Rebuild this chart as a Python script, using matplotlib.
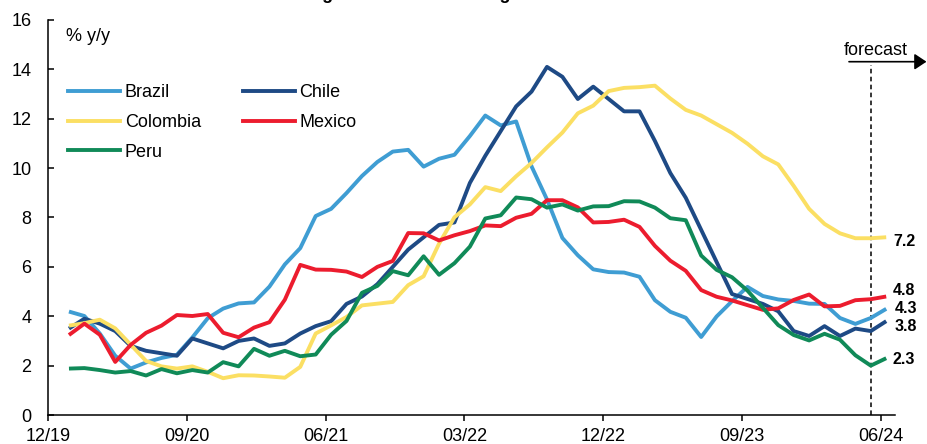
import numpy as np
import matplotlib
matplotlib.use("Agg")
import matplotlib.pyplot as plt
from matplotlib.lines import Line2D

plt.rcParams["font.family"] = ["Liberation Sans", "DejaVu Sans"]

# Monthly headline inflation, % y/y, Jan 2020 - Jun 2024 (last month is a forecast)
brazil = [4.19, 4.01, 3.30, 2.40, 1.88, 2.13, 2.31, 2.44, 3.14, 3.92, 4.31, 4.52,
          4.56, 5.20, 6.10, 6.76, 8.06, 8.35, 8.99, 9.68, 10.25, 10.67, 10.74, 10.06,
          10.38, 10.54, 11.30, 12.13, 11.73, 11.89, 10.07, 8.73, 7.17, 6.47, 5.90, 5.79,
          5.77, 5.60, 4.65, 4.18, 3.94, 3.16, 3.99, 4.61, 5.19, 4.82, 4.68, 4.62,
          4.51, 4.50, 3.93, 3.69, 3.93, 4.3]
chile = [3.5, 3.9, 3.7, 3.4, 2.8, 2.6, 2.5, 2.4, 3.1, 2.9, 2.7, 3.0,
         3.1, 2.8, 2.9, 3.3, 3.6, 3.8, 4.5, 4.8, 5.3, 6.0, 6.7, 7.2,
         7.7, 7.8, 9.4, 10.5, 11.5, 12.5, 13.1, 14.1, 13.7, 12.8, 13.3, 12.8,
         12.3, 12.3, 11.1, 9.8, 8.8, 7.5, 6.2, 4.9, 4.7, 4.5, 4.2, 3.4,
         3.2, 3.6, 3.2, 3.5, 3.4, 3.8]
colombia = [3.62, 3.72, 3.86, 3.51, 2.85, 2.19, 1.97, 1.88, 1.97, 1.75, 1.49, 1.61,
            1.60, 1.56, 1.51, 1.95, 3.30, 3.63, 3.97, 4.44, 4.51, 4.58, 5.26, 5.62,
            6.94, 8.01, 8.53, 9.23, 9.07, 9.67, 10.21, 10.84, 11.44, 12.22, 12.53, 13.12,
            13.25, 13.28, 13.34, 12.82, 12.36, 12.13, 11.78, 11.43, 10.99, 10.48, 10.15, 9.28,
            8.35, 7.74, 7.36, 7.16, 7.16, 7.2]
mexico = [3.24, 3.70, 3.25, 2.15, 2.84, 3.33, 3.62, 4.05, 4.01, 4.09, 3.33, 3.15,
          3.54, 3.76, 4.67, 6.08, 5.89, 5.88, 5.81, 5.59, 6.00, 6.24, 7.37, 7.36,
          7.07, 7.28, 7.45, 7.68, 7.65, 7.99, 8.15, 8.70, 8.70, 8.41, 7.80, 7.82,
          7.91, 7.62, 6.85, 6.25, 5.84, 5.06, 4.79, 4.64, 4.45, 4.26, 4.32, 4.66,
          4.88, 4.40, 4.42, 4.65, 4.69, 4.8]
peru = [1.88, 1.90, 1.82, 1.72, 1.78, 1.60, 1.86, 1.69, 1.82, 1.72, 2.14, 1.97,
        2.68, 2.40, 2.60, 2.38, 2.45, 3.25, 3.81, 4.95, 5.23, 5.83, 5.66, 6.43,
        5.68, 6.15, 6.82, 7.96, 8.09, 8.81, 8.74, 8.40, 8.53, 8.28, 8.45, 8.46,
        8.66, 8.65, 8.40, 7.97, 7.89, 6.46, 5.88, 5.58, 5.04, 4.34, 3.64, 3.24,
        3.02, 3.29, 3.05, 2.42, 2.00, 2.3]

countries = ["Brazil", "Chile", "Colombia", "Mexico", "Peru"]
series = [brazil, chile, colombia, mexico, peru]
tick_labels = ["12/19", "09/20", "06/21", "03/22", "12/22", "09/23", "06/24"]

# styling
colors = ["#3F9DD3", "#1E4A85", "#FBDF63", "#EC1C2E", "#108A58"]
end_label_y = [4.32, 3.58, 7.02, 5.06, 2.26]      # vertical spots for the end values
end_label_dx = [0.57, 0.57, 0.44, 0.44, 0.44]
LW = 2.8

W, H, DPI = 927, 444, 100
fig = plt.figure(figsize=(W / DPI, H / DPI), dpi=DPI)
ax = fig.add_axes([48 / W, 1 - 415 / H, (895 - 48) / W, (415 - 20) / H])

x = np.arange(len(brazil))
for name, vals, col in zip(countries, series, colors):
    ax.plot(x, vals, color=col, lw=LW, solid_joinstyle="round",
            solid_capstyle="butt", label=name)

# end-of-period values
for vals, yy, dx in zip(series, end_label_y, end_label_dx):
    ax.text(x[-1] + dx, yy, f"{vals[-1]:.1f}", fontsize=11.5, fontweight="bold",
            ha="left", va="center", clip_on=False)

# forecast marker: last actual month
last_actual = x[-2]
ax.plot([last_actual, last_actual], [0, 14.18], color="black", lw=1.1,
        linestyle=(0, (3, 2.2)), clip_on=False, zorder=1)
ax.text(52.33, 14.75, "forecast", fontsize=13, ha="center", va="center",
        clip_on=False)
ax.annotate("", xy=(926.5, H - 61.7), xytext=(849, H - 61.7),
            xycoords="figure pixels", textcoords="figure pixels",
            arrowprops=dict(arrowstyle="-|>,head_length=0.6,head_width=0.4",
                            mutation_scale=12, color="black", lw=1.2,
                            shrinkA=0, shrinkB=0))

# axes
ax.set_ylim(0, 16)
ax.set_yticks(np.arange(0, 17, 2))
ax.set_xlim(-1.36, 53.57)
# tick marks sit at the start of each labelled month; points fall mid-month
ax.set_xticks(np.arange(len(tick_labels)) * 9 - 1.35)
ax.set_xticklabels(tick_labels)

for side in ("top", "right"):
    ax.spines[side].set_visible(False)
for side in ("left", "bottom"):
    ax.spines[side].set_linewidth(1.1)
    ax.spines[side].set_color("black")

ax.tick_params(axis="y", direction="in", length=4, width=1.1, pad=12,
               labelsize=13, colors="black")
ax.tick_params(axis="x", direction="out", length=4, width=1.1, pad=5,
               labelsize=13, colors="black")

ax.text(-0.2, 15.35, "% y/y", fontsize=13, ha="left", va="center")

# legend, column-wise order
order = [0, 2, 4, 1, 3]
handles = [Line2D([], [], color=colors[i], lw=LW) for i in order]
labels = [countries[i] for i in order]
ax.legend(handles, labels, ncol=2, loc="upper left",
          bbox_to_anchor=(68 / W, 1 - 84 / H), bbox_transform=fig.transFigure,
          frameon=False, fontsize=13, handlelength=2.9, handletextpad=0.25,
          columnspacing=2.3, labelspacing=0.71, borderpad=0, borderaxespad=0)

fig.text(0.483, 1 + 1.5 / H, "Starting Point: Inflation Progress in LatAm",
         ha="center", va="baseline", fontsize=13, fontweight="bold")

fig.savefig("out.png", dpi=DPI)
